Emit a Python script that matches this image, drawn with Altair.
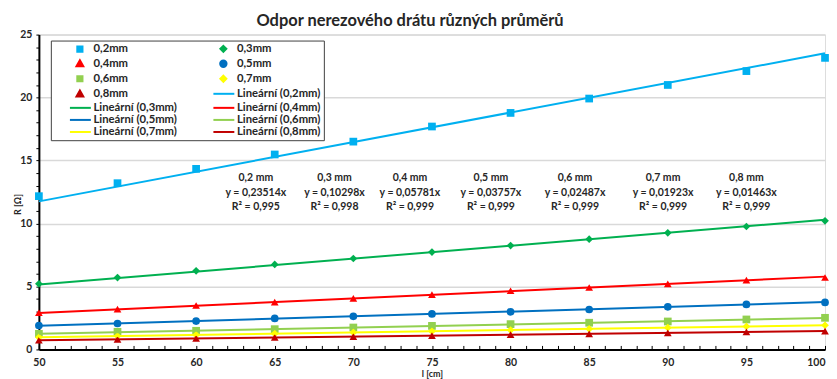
import altair as alt
import pandas as pd

# ---- data ----
lengths = [50, 55, 60, 65, 70, 75, 80, 85, 90, 95, 100]
R_02 = [12.17, 13.20, 14.34, 15.48, 16.50, 17.70, 18.78, 19.92, 21.00, 22.10, 23.15]
R_03 = [5.21, 5.71, 6.24, 6.75, 7.22, 7.73, 8.25, 8.75, 9.26, 9.76, 10.21]
R_04 = [2.91, 3.20, 3.49, 3.76, 4.05, 4.35, 4.66, 4.92, 5.21, 5.50, 5.71]
R_05 = [1.90, 2.06, 2.25, 2.46, 2.63, 2.82, 2.99, 3.17, 3.38, 3.57, 3.73]
R_06 = [1.24, 1.40, 1.48, 1.61, 1.74, 1.87, 2.01, 2.12, 2.22, 2.38, 2.51]
R_07 = [0.96, 1.06, 1.15, 1.25, 1.35, 1.44, 1.54, 1.63, 1.73, 1.83, 1.92]
R_08 = [0.73, 0.80, 0.88, 0.95, 1.02, 1.10, 1.17, 1.24, 1.32, 1.39, 1.46]

series = ["0,2mm", "0,3mm", "0,4mm", "0,5mm", "0,6mm", "0,7mm", "0,8mm"]
fit_names = ["Lineární (0,2mm)", "Lineární (0,3mm)", "Lineární (0,4mm)", "Lineární (0,5mm)",
             "Lineární (0,6mm)", "Lineární (0,7mm)", "Lineární (0,8mm)"]
colors = ["#00B0F0", "#00B050", "#FF0000", "#0070C0", "#92D050", "#FFFF00", "#C00000"]
shapes = ["square", "diamond", "triangle-up", "circle", "square", "diamond", "triangle-up"]

slopes = [0.23514, 0.10298, 0.05781, 0.03757, 0.02487, 0.01923, 0.01463]
slope_txt = ["0,23514", "0,10298", "0,05781", "0,03757", "0,02487", "0,01923", "0,01463"]
r2_txt = ["0,995", "0,998", "0,999", "0,999", "0,999", "0,999", "0,999"]
diam_txt = ["0,2 mm", "0,3 mm", "0,4 mm", "0,5 mm", "0,6 mm", "0,7 mm", "0,8 mm"]
annot_x = [63.8, 68.8, 73.6, 78.75, 84.1, 89.7, 95.0]
annot_y = [13.6] * 7

# ---- tables ----
all_R = [R_02, R_03, R_04, R_05, R_06, R_07, R_08]
pts = pd.DataFrame([
    {"l": l, "R": r, "series": s}
    for s, vals in zip(series, all_R) for l, r in zip(lengths, vals)
])
fit = pd.DataFrame([
    {"l": l, "R": k * l, "fit": f, "order": i}
    for i, (f, k) in enumerate(zip(fit_names, slopes)) for l in (lengths[0], lengths[-1])
])
ann = pd.DataFrame({
    "x": annot_x, "y": annot_y,
    "txt": [f"{d}\ny = {k}x\nR² = {r}" for d, k, r in zip(diam_txt, slope_txt, r2_txt)],
})

FONT = "Lato"
TXT = "#262626"

domain = series + fit_names
color_scale = alt.Scale(domain=domain, range=colors + colors)

# legend symbol glyphs (unit paths, scaled by the legend symbol size)
SQ = "M-0.65,-0.65L0.65,-0.65L0.65,0.65L-0.65,0.65Z"
DI = "M0,-0.75L0.75,0L0,0.75L-0.75,0Z"
TR = "M0,-0.85L0.85,0.65L-0.85,0.65Z"
CI = "M0.8,0A0.8,0.8,0,1,1,-0.8,0A0.8,0.8,0,1,1,0.8,0Z"
LN = "M-2.5,0L2.75,0"
shape_expr = (
    f"indexof(datum.value, 'Lineární') >= 0 ? '{LN}' : "
    f"(datum.value == '0,2mm' || datum.value == '0,6mm') ? '{SQ}' : "
    f"(datum.value == '0,3mm' || datum.value == '0,7mm') ? '{DI}' : "
    f"(datum.value == '0,5mm') ? '{CI}' : '{TR}'"
)
legend = alt.Legend(
    title=" ", titleOrient="left", titlePadding=21, titleFontSize=4,
    orient="none", legendX=12, legendY=6, columns=2, direction="horizontal",
    columnPadding=31, rowPadding=0.1, padding=2.5, symbolSize=64, labelOffset=8,
    symbolType={"expr": shape_expr}, symbolStrokeWidth=2, symbolOpacity=1,
    labelFont=FONT, labelFontSize=11.3, labelFontWeight="bold", labelColor=TXT,
    fillColor="white", strokeColor="#404040",
)

x_scale = alt.Scale(domain=[50, 100], nice=False, zero=False)
y_scale = alt.Scale(domain=[0, 25], nice=False)

x_axis = alt.Axis(
    title="l [cm]", values=list(range(50, 101)),
    labelExpr="datum.value % 5 == 0 ? datum.label : ''", labelOverlap=False, labelFlush=False,
    labelAlign={"condition": {"test": "datum.value >= 100", "value": "right"}, "value": "center"},
    grid=False, tickSize={"expr": "-4"}, tickColor="black", domainColor="black", domainWidth=2,
    labelFont=FONT, labelFontSize=10.5, labelFontWeight="bold", labelColor=TXT, labelPadding=12,
    titleFont=FONT, titleFontSize=9, titleFontWeight="bold", titleColor=TXT,
    titleBaseline="middle", titleY=24,
)
y_axis = alt.Axis(
    title="R [Ω]", values=list(range(0, 26)),
    labelExpr="datum.value % 5 == 0 ? datum.label : ''", labelOverlap=False,
    grid=True, gridColor="#d9d9d9", gridWidth=1.5,
    gridOpacity={"condition": {"test": "datum.value % 5 == 0", "value": 1}, "value": 0},
    tickSize=3, tickColor="black", domainColor="black", domainWidth=2,
    labelFont=FONT, labelFontSize=10.5, labelFontWeight="bold", labelColor=TXT, labelPadding=4,
    titleFont=FONT, titleFontSize=9, titleFontWeight="bold", titleColor=TXT,
    titleX=-21, titleY=170, titleAngle=270, titleBaseline="middle", titleAlign="center",
)

X = alt.X("l:Q", scale=x_scale, axis=x_axis)
Y = alt.Y("R:Q", scale=y_scale, axis=y_axis)

points = alt.Chart(pts).mark_point(filled=True, opacity=1, size=60).encode(
    x=X, y=Y,
    color=alt.Color("series:N", scale=color_scale, legend=legend),
    shape=alt.Shape("series:N", scale=alt.Scale(domain=series, range=shapes), legend=None),
)

lines = alt.Chart(fit).mark_line(strokeWidth=2).encode(
    x=X, y=Y,
    color=alt.Color("fit:N", scale=color_scale, legend=legend),
    detail="fit:N",
    order="order:Q",
)

labels = alt.Chart(ann).mark_text(
    font=FONT, fontSize=10.5, fontWeight="bold", color=TXT,
    lineBreak="\n", lineHeight=14.5, align="center", baseline="middle",
).encode(
    x=alt.X("x:Q", scale=x_scale, axis=x_axis),
    y=alt.Y("y:Q", scale=y_scale, axis=y_axis),
    text="txt:N",
)

chart = alt.layer(points, lines, labels).properties(
    width=789, height=316,
    padding={"left": 6, "top": 4, "right": 0, "bottom": 0},
    title=alt.TitleParams(
        "Odpor nerezového drátu různých průměrů", font=FONT, fontSize=16.5,
        fontWeight="bold", color=TXT, anchor="middle", offset=0, dx=-22,
    ),
).configure_view(
    stroke="#595959", strokeWidth=1.5,
).configure_legend(
    strokeWidth=2,
).configure(background="white")

chart.save("out.html", embed_options={"renderer": "svg", "actions": False})
